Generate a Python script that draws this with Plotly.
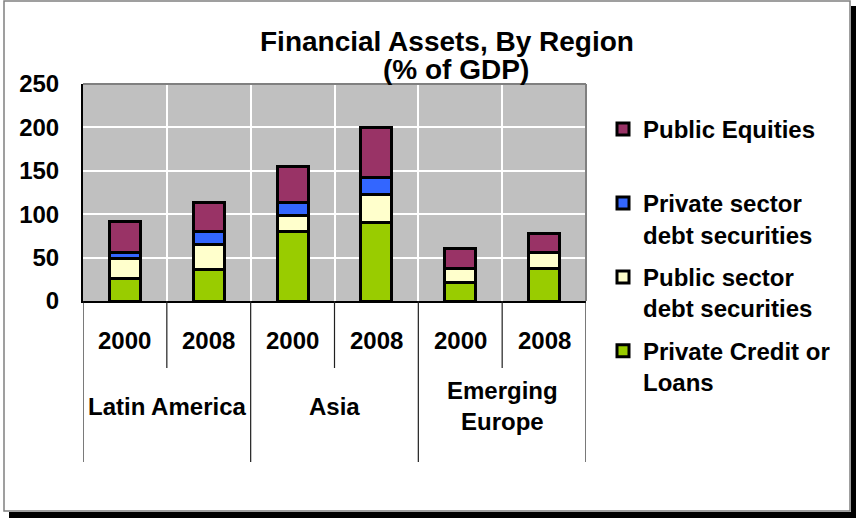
import plotly.graph_objects as go

# Chart data (% of GDP)
regions = ["Latin America", "Asia", "Emerging Europe"]
region_labels = ["Latin America", "Asia", "Emerging<br>Europe"]
years = ["2000", "2008"]

private_credit = [26, 36, 80, 90, 21, 38]
public_debt = [23, 29, 19, 33, 17, 18]
private_debt = [7, 15, 15, 19, 0, 0]
public_equities = [36, 34, 41, 58, 22, 22]

series_names = [
    "Private Credit or<br>Loans",
    "Public sector<br>debt securities",
    "Private sector<br>debt securities",
    "Public Equities<br> ",
]
series_values = [private_credit, public_debt, private_debt, public_equities]
series_colors = ["#99CC00", "#FFFFCC", "#3366FF", "#993366"]

y_ticks = [0, 50, 100, 150, 200, 250]

FONT = "Liberation Sans, Arial, sans-serif"
FS = 24

# Canvas geometry (pixels)
W, H = 856, 519
L, R, T, B = 83, 270, 84, 218
PW, PH = W - L - R, H - T - B


def px_x(p):
    return (p - L) / PW


def px_y(p):
    return (H - B - p) / PH


x_keys = [f"{r} {y}" for r in regions for y in years]

fig = go.Figure()
nser = len(series_names)
for k, (name, vals, col) in enumerate(zip(series_names, series_values, series_colors)):
    fig.add_trace(go.Bar(
        x=x_keys, y=vals, name=name, legendgroup=f"g{k}",
        legendrank=nser - k,
        marker=dict(color=col, line=dict(color="black", width=3)),
    ))

shapes = []
# Outer frame with drop shadow
shapes.append(dict(type="rect", xref="paper", yref="paper",
                   x0=px_x(9), x1=px_x(856), y0=px_y(518), y1=px_y(512),
                   fillcolor="black", line=dict(width=0), layer="below"))
shapes.append(dict(type="rect", xref="paper", yref="paper",
                   x0=px_x(851), x1=px_x(856), y0=px_y(518), y1=px_y(6),
                   fillcolor="black", line=dict(width=0), layer="below"))
shapes.append(dict(type="rect", xref="paper", yref="paper",
                   x0=px_x(4), x1=px_x(850), y0=px_y(511), y1=px_y(1),
                   line=dict(color="#808080", width=1.5), layer="below"))
# Plot-area border (top and right)
shapes.append(dict(type="line", xref="paper", yref="paper", x0=0, x1=1, y0=1, y1=1,
                   line=dict(color="#808080", width=2)))
shapes.append(dict(type="line", xref="paper", yref="paper", x0=1, x1=1, y0=0, y1=1,
                   line=dict(color="#808080", width=2)))

# Category dividers below the axis
n = len(x_keys)
for i in range(n + 1):
    xb = i - 0.5
    is_region_edge = (i % len(years) == 0)
    y_end = px_y(462) if is_region_edge else px_y(368)
    shapes.append(dict(type="line", xref="x", yref="paper", x0=xb, x1=xb,
                       y0=0, y1=y_end, line=dict(color="#202020", width=1.2)))

annotations = []
# Year labels
for i, key in enumerate(x_keys):
    annotations.append(dict(x=i, y=px_y(340), xref="x", yref="paper",
                            text=years[i % len(years)], showarrow=False,
                            xanchor="center", yanchor="middle",
                            font=dict(family=FONT, size=FS, color="black", weight="bold")))
# Region labels
for j, lab in enumerate(region_labels):
    annotations.append(dict(x=j * len(years) + (len(years) - 1) / 2, y=px_y(406),
                            xref="x", yref="paper", text=lab, showarrow=False,
                            xanchor="center", yanchor="middle",
                            font=dict(family=FONT, size=FS, color="black", weight="bold")))
# Title (two lines)
annotations.append(dict(x=px_x(447), y=px_y(42), xref="paper", yref="paper",
                        text="Financial Assets, By Region", showarrow=False,
                        xanchor="center", yanchor="middle",
                        font=dict(family=FONT, size=28, color="black", weight="bold")))
annotations.append(dict(x=px_x(456), y=px_y(69), xref="paper", yref="paper",
                        text="(% of GDP)", showarrow=False,
                        xanchor="center", yanchor="middle",
                        font=dict(family=FONT, size=28, color="black", weight="bold")))

fig.update_layout(
    width=W, height=H,
    margin=dict(l=L, r=R, t=T, b=B, autoexpand=False),
    barmode="stack", bargap=0.63,
    paper_bgcolor="white", plot_bgcolor="#C0C0C0",
    font=dict(family=FONT, color="black"),
    shapes=shapes, annotations=annotations,
    legend=dict(
        x=px_x(603), y=px_y(107), xanchor="left", yanchor="top",
        traceorder="grouped", tracegroupgap=8.5, valign="top",
        maxheight=500,
        font=dict(family=FONT, size=FS, color="black", weight="bold"),
        bgcolor="rgba(0,0,0,0)",
    ),
    xaxis=dict(
        type="category", showticklabels=False, ticks="",
        tickson="boundaries", showgrid=True, gridcolor="white", gridwidth=1.5,
        showline=True, linecolor="black", linewidth=2,
        range=[-0.5, n - 0.5],
    ),
    yaxis=dict(
        range=[0, 250], tickvals=y_ticks, ticks="",
        showgrid=True, gridcolor="white", gridwidth=1.5, zeroline=False,
        showline=True, linecolor="black", linewidth=2,
        ticklabelstandoff=17,
        tickfont=dict(family=FONT, size=FS, color="black", weight="bold"),
    ),
)

fig.write_html("out.html")
